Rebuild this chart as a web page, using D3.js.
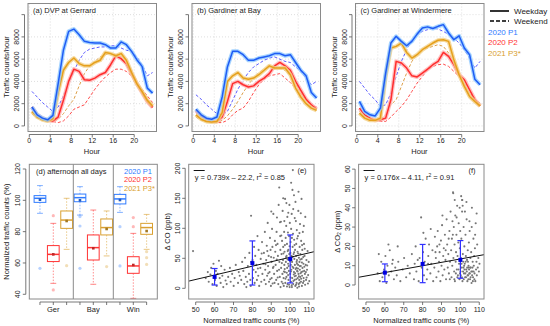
<!DOCTYPE html>
<html>
<head>
<meta charset="utf-8">
<script src="https://cdn.jsdelivr.net/npm/d3@7/dist/d3.min.js"></script>
<style>
  body { margin: 0; background: #fff; }
  svg text { font-family: "Liberation Sans", Arial, sans-serif; fill: #222; }
</style>
</head>
<body>
<svg id="chart" width="550" height="326"></svg>
<script>
// ---- hourly traffic (top row) ----
const hours = [0.5, 1.5, 2.5, 3.5, 4.5, 5.5, 6.5, 7.5, 8.5, 9.5, 10.5, 11.5,
  12.5, 13.5, 14.5, 15.5, 16.5, 17.5, 18.5, 19.5, 20.5, 21.5, 22.5, 23.5];

// (a) DVP at Gerrard
const gerP1wd = [1700, 1000, 700, 550, 950, 3800, 6800, 8500, 8700, 8200, 7600, 7500, 7450, 7450, 7300, 7000, 7000, 7550, 7300, 6700, 5950, 5350, 3400, 2950];
const gerP2wd = [1700, 1000, 700, 500, 450, 800, 2300, 4000, 5100, 4900, 4150, 4100, 4300, 4600, 4800, 5500, 6300, 6050, 5600, 4700, 3800, 3000, 2200, 1650];
const gerP3wd = [1300, 800, 550, 450, 650, 3000, 5000, 5700, 6100, 5600, 5400, 5400, 5700, 5900, 6600, 6500, 6300, 6500, 5900, 4800, 3800, 3100, 2300, 1800];
const gerP1we = [3100, 2600, 2100, 1700, 1300, 1700, 2700, 3900, 4900, 5900, 6600, 6900, 7000, 7100, 7100, 7200, 7200, 7000, 6800, 6700, 6200, 5500, 4500, 4800];
const gerP2we = [1500, 1000, 700, 500, 400, 300, 450, 900, 1500, 1700, 1900, 2600, 3300, 3900, 4400, 4800, 5100, 5100, 4900, 4500, 3900, 3300, 2700, 2100];
const gerP3we = [1100, 700, 500, 400, 400, 600, 1100, 1800, 2400, 3600, 4700, 5400, 5800, 6200, 6400, 6500, 6400, 6200, 5600, 4600, 3800, 3000, 2300, 2000];

// (b) Gardiner at Bay
const bayP1wd = [1500, 1000, 700, 600, 800, 2600, 5300, 6700, 6700, 6400, 5900, 5900, 6100, 6200, 6300, 6500, 6500, 6300, 6400, 5700, 5000, 4500, 3000, 2500];
const bayP2wd = [1400, 900, 600, 450, 400, 800, 2200, 3800, 4000, 3700, 3500, 3600, 4000, 4300, 4700, 5400, 5700, 5400, 5000, 4000, 3200, 2400, 1900, 1500];
const bayP3wd = [1000, 600, 400, 350, 400, 1200, 4000, 4500, 4800, 4300, 4200, 4300, 4600, 5000, 5400, 5200, 5200, 5200, 4600, 3400, 2600, 2000, 1600, 1400];
const bayP1we = [2800, 2400, 1900, 1500, 1100, 1000, 1300, 2300, 3300, 4100, 4800, 5300, 5600, 5900, 6100, 6200, 6000, 5800, 5700, 5300, 4900, 4300, 3700, 4000];
const bayP2we = [1200, 800, 600, 400, 300, 300, 500, 1000, 1400, 1600, 2200, 3000, 3700, 4200, 4500, 4600, 4700, 4300, 3900, 3400, 2900, 2300, 1900, 1700];
const bayP3we = [800, 500, 400, 300, 300, 500, 900, 1500, 2200, 3000, 3700, 4300, 4800, 5100, 5300, 5300, 5200, 5000, 4500, 3800, 3000, 2300, 1800, 1500];

// (c) Gardiner at Windermere
const winP1wd = [2200, 1300, 1000, 900, 1600, 4750, 7450, 8050, 7600, 7200, 7600, 8250, 8800, 8900, 8750, 8950, 9100, 8350, 7750, 8100, 7000, 6400, 4200, 3700];
const winP2wd = [1600, 1000, 700, 500, 550, 700, 2350, 5800, 5650, 5200, 4500, 4400, 4750, 5100, 5500, 5800, 6600, 6250, 5500, 4600, 4150, 3250, 2350, 1800];
const winP3wd = [1150, 700, 500, 500, 700, 4450, 7000, 7150, 7450, 6600, 6100, 6400, 6850, 7150, 7450, 7700, 7750, 7600, 5950, 4600, 3550, 2650, 2200, 1800];
const winP1we = [4000, 3400, 2800, 2350, 1750, 1900, 2950, 4450, 5800, 6850, 7750, 8200, 8500, 8650, 8800, 8700, 8500, 8200, 7900, 7450, 6850, 6100, 5200, 5800];
const winP2we = [1600, 1000, 600, 500, 400, 400, 800, 1300, 1750, 2350, 3100, 3850, 4450, 5050, 5350, 5500, 5550, 5350, 4900, 4450, 3850, 3250, 2500, 1800];
const winP3we = [1300, 850, 550, 500, 550, 1000, 1900, 2350, 3550, 4750, 5800, 6400, 6850, 7000, 7150, 7300, 7150, 6550, 5650, 4600, 3700, 2950, 2350, 2050];

const hourTicks = [0, 4, 8, 12, 16, 20];
const countTicks = [0, 2000, 4000, 6000, 8000, 10000];
const countLabels = ["0", "2000", "4000", "6000", "8000", ""];

// ---- box plots (d): order Ger P1,P2,P3, Bay P1,P2,P3, Win P1,P2,P3 ----
const boxGroups = ["Ger", "Bay", "Win"];
const boxLow = [91.7, 47, 68.7, 90.6, 46.4, 64.5, 92.3, 37.4, 68.7];
const boxQ1 = [98.7, 60.9, 82.1, 99.1, 61.9, 77.9, 97.7, 53.4, 78.3];
const boxMed = [101.3, 65.5, 87.4, 101.7, 69.8, 82.6, 100.9, 58.1, 82.6];
const boxQ3 = [103, 71.1, 93.2, 104, 77.9, 88.1, 103.8, 64, 85.3];
const boxHigh = [109.4, 85.3, 101.3, 108.7, 93.8, 93.2, 108.7, 78.9, 91];
const boxMean = [100.4, 65.5, 86.8, 100, 69.4, 81.7, 100.2, 58.7, 80.4];
const boxOutliers = [[56.6], [90.2, 42.8], [58.3], [89.6, 83.6, 56.6], [], [57.7], [83.2, 58.1], [89, 83.2], [67.2, 63.4, 59.1]];
const normTicks = [40, 60, 80, 100, 120];

// ---- scatter (e) CO and (f) CO2 vs normalized traffic ----
const coPoints = [[48.6,62],[55.3,17],[56.4,27],[56.9,11],[57.8,23],[58.2,34],[58.9,7],[59.4,41],[60.2,14],[60.7,29],[61.1,4],[61.6,24],[62.3,46],[62.7,17],[63.2,9],[63.5,37],[64.1,21],[64.6,2],[65.3,31],[65.8,13],[66.4,7],[67.2,19],[68.1,34],[68.5,11],[69.3,24],[70.1,4],[70.6,17],[71.2,39],[72.4,9],[72.8,27],[73.3,21],[74.1,14],[74.6,44],
  [75.2,29],[75.7,7],[76.1,51],[76.5,19],[77.3,11],[77.6,37],[78.2,24],[78.4,59],[79.1,4],[79.4,44],[79.3,121],[80.3,17],[80.6,31],[80.9,69],[81.2,9],[81.5,54],[81.8,27],[82.1,39],[82.4,14],[82.7,87],[83.1,21],[83.3,64],[83.6,4],[84.2,34],[84.4,49],[84.7,11],[85.1,77],[85.3,24],[85.8,41],[76.8,2],[78.9,14],[80.1,47],[82.9,33],[84.9,58],
  [86.1,59],[86.3,14],[86.6,94],[86.8,31],[87.1,7],[87.3,47],[87.6,71],[87.8,21],[88.1,109],[88.3,37],[88.6,54],[88.8,11],[89.1,27],[89.3,84],[89.6,64],[89.8,4],[90.1,44],[90.2,17],[90.4,99],[90.6,69],[90.9,34],[91.1,124],[91.3,51],[91.5,24],[91.7,9],[91.9,79],[92.1,61],[92.3,39],[92.6,14],[92.8,94],[93.1,29],[93.3,74],[93.5,54],[93.7,7],[93.9,139],[94.2,168],[94.3,44],[94.5,19],[94.7,87],[94.8,64],[94.9,2],[86.9,40],[88.4,25],[89.9,52],[91.2,36],[92.5,72],[93.4,18],[94.1,31],[87.9,62],[90.7,8],[92.9,48],[89.4,15],
  [95.1,111],[95.2,34],[95.4,57],[95.5,11],[95.7,79],[95.9,24],[96.0,129],[96.2,47],[96.3,69],[96.5,17],[96.6,4],[96.8,94],[96.9,39],[97.0,61],[97.2,27],[97.3,149],[97.4,9],[97.6,84],[97.7,44],[97.9,104],[98.0,19],[98.1,54],[98.3,74],[98.4,34],[98.5,119],[98.6,7],[98.8,93],[98.9,41],[99.0,64],[99.1,14],[99.3,29],[99.4,87],[99.5,49],[99.6,139],[99.7,2],[99.8,109],[100.0,24],[100.1,59],[100.2,77],[100.3,39],[100.4,11],[100.5,99],[100.6,31],[100.7,54],[100.8,124],[101.2,164],[101.4,197],[101.0,44],[101.1,17],[101.3,69],[101.5,91],[101.6,7],[101.7,34],[101.8,57],[102.0,27],[102.1,81],[102.2,49],[102.3,14],[102.4,117],[102.5,39],[102.6,64],[102.7,4],[102.8,144],[103.0,21],[103.1,54],[103.2,74],[103.3,34],[103.4,9],[103.5,97],[103.6,47],[103.7,29],[103.9,61],[104.0,17],[104.1,87],[104.2,39],[104.3,129],[104.4,24],[104.5,7],[104.6,51],[104.8,14],[104.9,44],[105.0,69],[105.1,31],[105.2,107],[105.3,19],[105.4,57],[105.6,37],[105.7,11],[105.8,79],[105.9,27],[106.0,149],[106.1,49],[106.3,21],[106.4,64],[106.5,34],[106.7,94],[106.8,9],[107.0,41],[107.1,17],[107.3,74],[107.4,29],[107.6,54],[107.8,24],[108.0,119],[108.2,39],[108.4,14],[108.6,47],[108.9,31],[109.2,62],[109.5,22],[109.8,44],[110.1,12],[104.7,3],[103.8,1],[100.9,2],[98.2,26],[102.9,32],[99.2,37],[101.9,23],[100.6,47],[97.1,32],[103.2,15],[105.5,25],[106.2,43],[104.1,33],[102.4,20],[101.3,52],[100.2,18],[99.5,57],[98.7,62],[103.6,41],[105.1,37],
  [95.6,42],[96.1,8],[96.7,28],[97.5,16],[97.8,52],[98.3,3],[98.9,22],[99.4,6],[99.9,45],[100.4,28],[100.8,5],[101.2,36],[101.7,12],[102.1,60],[102.6,25],[103.1,6],[103.4,44],[103.9,28],[104.2,58],[104.6,20],[105.0,9],[105.4,48],[105.8,16],[106.2,4],[106.6,28],[106.9,52],[107.2,12],[107.5,36],[107.9,6],[108.3,27],[108.7,18],[109.0,38],[109.4,8],[96.4,58],[97.2,72],[98.6,48],[99.7,70],[100.9,84],[102.3,72],[103.7,83],[104.9,92],[106.3,72],[107.7,66],[96.9,112],[99.0,126],[101.6,132],[103.0,112],[105.6,125],[107.2,104],[98.0,142],[102.0,155],[104.4,161],[100.5,176],[96.3,150],[95.3,88],[94.6,110],[93.0,118],[90.0,128]];
const co2Points = [[56.2,6],[56.8,16],[57.3,2],[58.1,12],[58.7,4],[59.6,8],[60.3,15],[60.8,1],[61.4,10],[62.1,5],[62.6,18],[63.4,7],[64.2,13],[64.8,3],[65.5,9],[66.3,5],[67.1,12],[68.2,2],[69.4,8],[70.2,14],[71.3,4],[72.1,10],[73.2,6],[74.3,16],[63.9,11],[61.9,21],[66.8,20],
  [75.4,3],[75.8,11],[76.3,20],[76.7,7],[77.4,13],[77.9,2],[79.2,35],[79.5,9],[80.2,17],[80.7,5],[81.1,12],[81.6,24],[82.2,3],[82.5,8],[83.0,15],[83.4,21],[84.1,6],[84.6,11],[85.2,18],[85.6,2],[78.4,14],[80.4,27],[82.9,11],[84.3,29],
  [86.2,9],[86.5,25],[87.0,14],[87.3,4],[87.7,20],[88.0,28],[88.4,7],[88.7,12],[89.0,17],[89.4,2],[89.7,23],[90.0,10],[90.3,31],[90.6,5],[90.9,15],[91.2,19],[91.5,8],[91.8,26],[92.1,13],[92.4,3],[92.7,34],[93.0,21],[93.3,9],[93.6,16],[93.9,6],[94.2,28],[94.5,12],[94.8,38],[86.8,17],[88.9,21],[90.5,36],[92.2,18],[93.8,24],[94.4,3],
  [95.1,18],[95.3,4],[95.5,24],[95.7,10],[96.1,48],[96.3,14],[96.5,30],[96.7,7],[96.9,21],[97.1,2],[97.3,36],[97.5,12],[97.7,17],[97.9,26],[98.1,8],[98.3,41],[98.5,15],[98.7,5],[98.9,22],[99.1,32],[99.3,11],[99.5,3],[99.7,19],[99.9,28],[100.1,7],[100.3,14],[100.5,24],[100.7,9],[100.9,38],[101.1,2],[101.3,16],[101.5,12],[101.7,30],[101.0,44],[101.9,6],[102.1,20],[102.3,11],[102.5,4],[102.7,26],[102.9,15],[103.1,8],[103.3,34],[103.5,13],[103.7,2],[103.9,18],[104.1,5],[104.3,10],[104.5,22],[104.7,6],[104.9,28],[105.1,3],[105.3,14],[105.5,9],[105.7,17],[105.9,1],[106.1,40],[106.3,7],[106.5,12],[106.7,4],[106.9,24],[107.1,10],[107.3,15],[107.5,6],[107.7,19],[107.9,2],[108.1,32],[108.3,8],[108.5,12],[108.7,5],[108.9,21],[109.2,9],[109.5,14],[109.8,7],[110.1,11],
  [100.2,5],[100.8,4],[101.4,7],[101.8,3],[102.2,8],[102.6,6],[103.0,4],[103.4,7],[103.8,5],[104.2,3],[104.6,8],[105.0,6],[105.4,4],[105.8,7],[106.2,5],[106.6,2],[107.0,7],[103.6,9],[104.4,9],[105.2,9],[102.0,10],[101.6,9],[99.8,6],[99.0,8],[98.4,4],[97.6,6],[96.8,3],[106.4,9],[107.4,3],[104.0,12],[102.8,12],[100.6,11],
  [97.0,44],[99.6,40],[100.4,46],[98.0,35],[102.4,38],[104.8,33],[106.0,30],[103.2,43],[95.8,33],[96.0,26],[107.8,26],[108.6,37],[96.2,47.5],[100.9,44],[101.2,41]];

const binCenters = [60, 80, 100];
const coBinMean = [19, 42, 49];
const coBinLow = [5.5, 5.5, 9];
const coBinHigh = [33, 79, 89];
const co2BinMean = [6.4, 10.9, 13];
const co2BinLow = [1.7, 1.2, 3.5];
const co2BinHigh = [10.9, 21, 23];
const coFit = { slope: 0.739, intercept: -22.2 };
const co2Fit = { slope: 0.176, intercept: -4.11 };
const pctTicks = [50, 60, 70, 80, 90, 100, 110];
const coTicks = [0, 50, 100, 150, 200];
const co2Ticks = [0, 10, 20, 30, 40, 50, 60];

// colours
const colP1 = "#1f5cf5", colP2 = "#ff2e2e", colP3 = "#e6a01c";
const colP1d = "#5c5cff", colP2d = "#ff4a4a", colP3d = "#dda04a";
const colP1t = "#2f7bff", colP2t = "#ff3333", colP3t = "#d9a030";
const boxCols = [colP1t, colP2t, colP3t];

const svg = d3.select("#chart");
const FS = 7;

// R-like axis helpers
function leftAxis(g, y, ticks, labels, xAxis, labelX) {
  g.append("line").attr("x1", xAxis).attr("x2", xAxis)
    .attr("y1", y(ticks[0])).attr("y2", y(ticks[ticks.length - 1]))
    .attr("stroke", "#555").attr("stroke-width", 0.8);
  ticks.forEach((t, i) => {
    g.append("line").attr("x1", xAxis - 3).attr("x2", xAxis)
      .attr("y1", y(t)).attr("y2", y(t)).attr("stroke", "#555").attr("stroke-width", 0.8);
    g.append("text")
      .attr("transform", `translate(${labelX},${y(t)}) rotate(-90)`)
      .attr("text-anchor", "middle").attr("font-size", FS)
      .text(labels[i]);
  });
}
function bottomAxis(g, x, ticks, labels, yAxis, labelY) {
  g.append("line").attr("y1", yAxis).attr("y2", yAxis)
    .attr("x1", x(ticks[0])).attr("x2", x(ticks[ticks.length - 1]))
    .attr("stroke", "#555").attr("stroke-width", 0.8);
  ticks.forEach((t, i) => {
    g.append("line").attr("y1", yAxis).attr("y2", yAxis + 3)
      .attr("x1", x(t)).attr("x2", x(t)).attr("stroke", "#555").attr("stroke-width", 0.8);
    g.append("text").attr("x", x(t)).attr("y", labelY)
      .attr("text-anchor", "middle").attr("font-size", FS).text(labels[i]);
  });
}
function frame(g, x0, y0, x1, y1) {
  g.append("rect").attr("x", x0).attr("y", y0).attr("width", x1 - x0).attr("height", y1 - y0)
    .attr("fill", "none").attr("stroke", "#8a8a8a").attr("stroke-width", 1);
}

// ---- top row ----
const hourlyPanels = [
  { left: 28, title: "(a) DVP at Gerrard", wd: [gerP2wd, gerP3wd, gerP1wd], we: [gerP2we, gerP3we, gerP1we] },
  { left: 192, title: "(b) Gardiner at Bay", wd: [bayP2wd, bayP3wd, bayP1wd], we: [bayP2we, bayP3we, bayP1we] },
  { left: 355.5, title: "(c) Gardiner at Windermere", wd: [winP2wd, winP3wd, winP1wd], we: [winP2we, winP3we, winP1we] },
];
const wdCols = [colP2, colP3, colP1];
const weCols = [colP2d, colP3d, colP1d];
const bandCols = ["#ffb0b0", "#f3cf86", "#8fc8ff"];

hourlyPanels.forEach((p) => {
  const top = 3.5, bottom = 131.5;
  const x = d3.scaleLinear().domain([-0.25, 24.25]).range([p.left, p.left + 128.5]);
  const y = d3.scaleLinear().domain([-500, 11000]).range([bottom, top]);
  const g = svg.append("g");

  // grid
  hourTicks.forEach((h) => g.append("line").attr("x1", x(h)).attr("x2", x(h))
    .attr("y1", top).attr("y2", bottom).attr("stroke", "#d0d0d0")
    .attr("stroke-width", 0.7).attr("stroke-dasharray", "1,2"));
  countTicks.forEach((c) => g.append("line").attr("y1", y(c)).attr("y2", y(c))
    .attr("x1", p.left).attr("x2", p.left + 128.5).attr("stroke", "#d0d0d0")
    .attr("stroke-width", 0.7).attr("stroke-dasharray", "1,2"));

  const line = (vals) => d3.line().x((d, i) => x(hours[i])).y((d) => y(d))(vals);

  p.we.forEach((vals, i) => g.append("path").attr("d", line(vals)).attr("fill", "none")
    .attr("stroke", weCols[i]).attr("stroke-width", 1).attr("stroke-dasharray", "3,2"));
  p.wd.forEach((vals, i) => {
    g.append("path").attr("d", line(vals)).attr("fill", "none")
      .attr("stroke", bandCols[i]).attr("stroke-width", 4).attr("stroke-opacity", 0.8)
      .attr("stroke-linejoin", "round");
    g.append("path").attr("d", line(vals)).attr("fill", "none")
      .attr("stroke", wdCols[i]).attr("stroke-width", 1.5).attr("stroke-linejoin", "round");
  });

  frame(g, p.left, top, p.left + 128.5, bottom);
  leftAxis(g, y, countTicks, countLabels, p.left - 3.5, p.left - 9);
  bottomAxis(g, x, hourTicks, hourTicks.map(String), bottom + 3, 142.5);

  g.append("text").attr("x", p.left + 5).attr("y", 12.5).attr("font-size", 7.5).text(p.title);
  g.append("text").attr("x", p.left + 64).attr("y", 154).attr("text-anchor", "middle")
    .attr("font-size", 7.5).text("Hour");
  g.append("text").attr("transform", `translate(${p.left - 19},67) rotate(-90)`)
    .attr("text-anchor", "middle").attr("font-size", 7.5).text("Traffic counts/hour");
});

// top legend
const lg = svg.append("g");
lg.append("line").attr("x1", 490).attr("x2", 509).attr("y1", 11).attr("y2", 11)
  .attr("stroke", "#000").attr("stroke-width", 1.6);
lg.append("line").attr("x1", 490).attr("x2", 509).attr("y1", 21).attr("y2", 21)
  .attr("stroke", "#000").attr("stroke-width", 1.4).attr("stroke-dasharray", "4,2");
lg.append("text").attr("x", 514).attr("y", 14).attr("font-size", 8).text("Weekday");
lg.append("text").attr("x", 514).attr("y", 24).attr("font-size", 8).text("Weekend");
["2020 P1", "2020 P2", "2021 P3*"].forEach((t, i) => lg.append("text")
  .attr("x", 488).attr("y", 35 + i * 10.3).attr("font-size", 8)
  .style("fill", boxCols[i]).text(t));

// ---- (d) box plots ----
{
  const left = 29.3, right = 157.3, top = 164.3, bottom = 299;
  const x = d3.scaleLinear().domain([-0.8, 8.8]).range([left, right]);
  const y = d3.scaleLinear().domain([37, 123]).range([bottom, top]);
  const g = svg.append("g");
  const bw = 0.88 * (x(1) - x(0));

  boxMed.forEach((m, i) => {
    const c = boxCols[i % 3];
    const cx = x(i);
    // whiskers
    g.append("line").attr("x1", cx).attr("x2", cx).attr("y1", y(boxHigh[i])).attr("y2", y(boxQ3[i]))
      .attr("stroke", c).attr("stroke-opacity", 0.55).attr("stroke-dasharray", "1.5,1.5");
    g.append("line").attr("x1", cx).attr("x2", cx).attr("y1", y(boxQ1[i])).attr("y2", y(boxLow[i]))
      .attr("stroke", c).attr("stroke-opacity", 0.55).attr("stroke-dasharray", "1.5,1.5");
    [boxHigh[i], boxLow[i]].forEach((v) => g.append("line")
      .attr("x1", cx - bw / 4).attr("x2", cx + bw / 4).attr("y1", y(v)).attr("y2", y(v))
      .attr("stroke", c).attr("stroke-opacity", 0.6));
    g.append("rect").attr("x", cx - bw / 2).attr("width", bw)
      .attr("y", y(boxQ3[i])).attr("height", y(boxQ1[i]) - y(boxQ3[i]))
      .attr("fill", "#fff").attr("stroke", c).attr("stroke-width", 1);
    g.append("line").attr("x1", cx - bw / 2).attr("x2", cx + bw / 2)
      .attr("y1", y(m)).attr("y2", y(m)).attr("stroke", c).attr("stroke-width", 1.5);
    g.append("rect").attr("x", cx - 1.3).attr("y", y(boxMean[i]) - 1.3)
      .attr("width", 2.6).attr("height", 2.6).attr("fill", d3.color(c).darker(0.8));
    boxOutliers[i].forEach((o) => g.append("circle").attr("cx", cx).attr("cy", y(o)).attr("r", 1.6)
      .attr("fill", c).attr("fill-opacity", 0.35).attr("stroke", "none"));
  });

  [2.5, 5.5].forEach((s) => g.append("line").attr("x1", x(s)).attr("x2", x(s))
    .attr("y1", top).attr("y2", bottom).attr("stroke", "#8a8a8a"));
  frame(g, left, top, right, bottom);
  leftAxis(g, y, normTicks, normTicks.map(String), left - 3.5, left - 9);
  // x axis
  g.append("line").attr("x1", x(0)).attr("x2", x(8)).attr("y1", bottom + 3).attr("y2", bottom + 3)
    .attr("stroke", "#555").attr("stroke-width", 0.8);
  d3.range(9).forEach((i) => g.append("line").attr("x1", x(i)).attr("x2", x(i))
    .attr("y1", bottom + 3).attr("y2", bottom + 6).attr("stroke", "#555").attr("stroke-width", 0.8));
  boxGroups.forEach((t, i) => g.append("text").attr("x", x(1 + i * 3)).attr("y", 312)
    .attr("text-anchor", "middle").attr("font-size", 7.5).text(t));
  g.append("text").attr("transform", `translate(${left - 20},${(top + bottom) / 2}) rotate(-90)`)
    .attr("text-anchor", "middle").attr("font-size", 7.5).text("Normalized traffic counts (%)");
  g.append("text").attr("x", 36).attr("y", 173.5).attr("font-size", 7.5).text("(d) afternoon all days");
  ["2020 P1", "2020 P2", "2021 P3*"].forEach((t, i) => g.append("text")
    .attr("x", 124).attr("y", 173.5 + i * 8.5).attr("font-size", 7.5)
    .style("fill", boxCols[i]).text(t));
}

// ---- (e), (f) scatter ----
const scatterPanels = [
  { left: 188.7, right: 314, xd: [46.3, 112.6], yd: [-17.8, 206.7], pts: coPoints, yt: coTicks,
    bm: coBinMean, bl: coBinLow, bh: coBinHigh, fit: coFit, tag: "(e)",
    eq: "y = 0.739x \u2013 22.2, r", r2: " = 0.85", ylab: ["\u0394 CO (ppb)", ""] },
  { left: 358.6, right: 484, xd: [46.1, 112.5], yd: [-7.25, 62.5], pts: co2Points, yt: co2Ticks,
    bm: co2BinMean, bl: co2BinLow, bh: co2BinHigh, fit: co2Fit, tag: "(f)",
    eq: "y = 0.176x \u2013 4.11, r", r2: " = 0.91", ylab: ["\u0394 CO", "2"] },
];

scatterPanels.forEach((p) => {
  const top = 164.3, bottom = 299;
  const x = d3.scaleLinear().domain(p.xd).range([p.left, p.right]);
  const y = d3.scaleLinear().domain(p.yd).range([bottom, top]);
  const g = svg.append("g");
  const clipId = "clip" + p.tag.replace(/\W/g, "");
  g.append("clipPath").attr("id", clipId).append("rect")
    .attr("x", p.left).attr("y", top).attr("width", p.right - p.left).attr("height", bottom - top);

  g.append("g").selectAll("circle").data(p.pts).enter().append("circle")
    .attr("cx", (d) => x(d[0])).attr("cy", (d) => y(d[1])).attr("r", 1.05)
    .attr("fill", "#777");

  g.append("line").attr("clip-path", `url(#${clipId})`)
    .attr("x1", x(p.xd[0])).attr("x2", x(p.xd[1]))
    .attr("y1", y(p.fit.slope * p.xd[0] + p.fit.intercept))
    .attr("y2", y(p.fit.slope * p.xd[1] + p.fit.intercept))
    .attr("stroke", "#111").attr("stroke-width", 1);

  binCenters.forEach((b, i) => {
    const cx = x(b);
    g.append("line").attr("x1", cx).attr("x2", cx).attr("y1", y(p.bh[i])).attr("y2", y(p.bl[i]))
      .attr("stroke", "#3030ff").attr("stroke-width", 1.2);
    [p.bh[i], p.bl[i]].forEach((v) => g.append("line").attr("x1", cx - 3).attr("x2", cx + 3)
      .attr("y1", y(v)).attr("y2", y(v)).attr("stroke", "#3030ff").attr("stroke-width", 1.2));
    g.append("rect").attr("x", cx - 2).attr("y", y(p.bm[i]) - 2).attr("width", 4).attr("height", 4)
      .attr("fill", "#0000e0");
  });

  frame(g, p.left, top, p.right, bottom);
  leftAxis(g, y, p.yt, p.yt.map(String), p.left - 3.5, p.left - 9);
  bottomAxis(g, x, pctTicks, pctTicks.map(String), bottom + 3, 311.5);
  g.append("text").attr("x", (p.left + p.right) / 2).attr("y", 322.5).attr("text-anchor", "middle")
    .attr("font-size", 7.5).text("Normalized traffic counts (%)");

  const yl = g.append("text").attr("transform", `translate(${p.left - 19},${(top + bottom) / 2}) rotate(-90)`)
    .attr("text-anchor", "middle").attr("font-size", 7.5);
  yl.append("tspan").text(p.ylab[0]);
  if (p.ylab[1]) yl.append("tspan").attr("font-size", 5).attr("dy", 1.5).text(p.ylab[1]);
  if (p.ylab[1]) yl.append("tspan").attr("dy", -1.5).text(" (ppm)");

  g.append("line").attr("x1", p.left + 5).attr("x2", p.left + 16).attr("y1", 170.5).attr("y2", 170.5)
    .attr("stroke", "#111").attr("stroke-width", 1);
  const eq = g.append("text").attr("x", p.left + 6).attr("y", 179.5).attr("font-size", 7.5);
  eq.append("tspan").text(p.eq);
  eq.append("tspan").attr("font-size", 5).attr("dy", -3).text("2");
  eq.append("tspan").attr("dy", 3).text(p.r2);
  g.append("text").attr("x", p.right - 12).attr("y", 173).attr("text-anchor", "middle")
    .attr("font-size", 7.5).text(p.tag);
});
</script>
</body>
</html>
